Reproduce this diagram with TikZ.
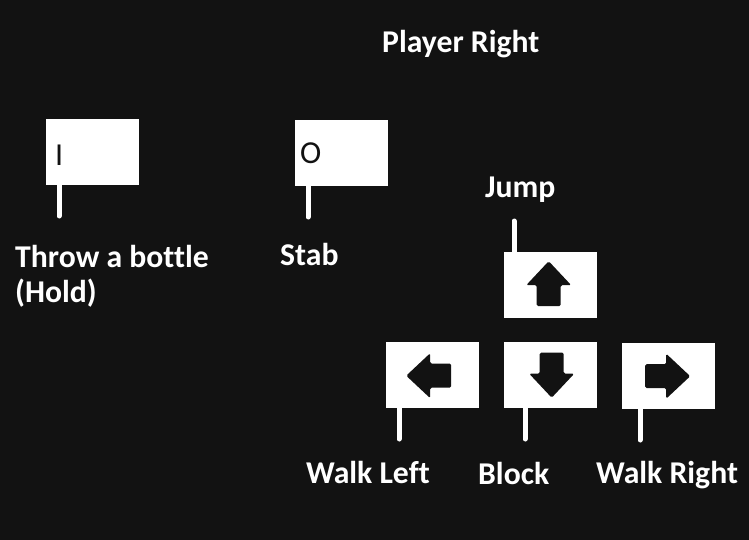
\documentclass[tikz,border=0pt]{standalone}
\usepackage{fontspec}
\setmainfont[Ligatures=NoCommon]{Carlito}
\usepackage{tikz}
\usepackage{xcolor}
\definecolor{bgdark}{RGB}{18,18,18}

\begin{document}
\begin{tikzpicture}[x=1pt, y=-1pt,
    key/.style={fill=white, minimum width=93pt, minimum height=66pt, inner sep=0pt, anchor=north west},
    keyletter/.style={anchor=base west, inner sep=0pt, font=\fontsize{32}{38}\selectfont, text=bgdark},
    caption/.style={anchor=base west, inner sep=0pt, font=\bfseries\fontsize{31.7}{38}\selectfont, text=white},
    stem/.style={draw=white, line width=5pt, line cap=round},
    arrowglyph/.pic={\fill[bgdark, rounded corners=1.5pt] (0,-22.5) -- (22.5,1.5) -- (12,1.5) -- (12,22.5) -- (-12,22.5) -- (-12,1.5) -- (-22.5,1.5) -- cycle;}]
    \fill[bgdark] (0,0) rectangle (749,540);
    \node[caption] (title) at (382,52.5) {Player Right};
    % letter keys
    \node[key] (keyI) at (46,119) {};
    \node[keyletter] (letI) at (55,166) {I};
    \node[key] (keyO) at (295,120) {};
    \node[keyletter] (letO) at (300,163.5) {O};
    % arrow keys
    \node[key] (keyUp) at (504,252) {};
    \node[key] (keyLeft) at (386,342) {};
    \node[key] (keyDown) at (504,342) {};
    \node[key] (keyRight) at (622,343) {};
    \pic at ([shift={(-2,-1.5)}]keyUp.center) {arrowglyph};
    \pic[rotate=90] at ([shift={(-4,0.5)}]keyLeft.center) {arrowglyph};
    \pic[rotate=180] at ([shift={(1,0)}]keyDown.center) {arrowglyph};
    \pic[rotate=-90] at ([shift={(-1,0)}]keyRight.center) {arrowglyph};
    % stems
    \coordinate (endI) at (59,216);
    \coordinate (endO) at (308,217);
    \coordinate (endJump) at (514,221);
    \coordinate (endLeft) at (399,439);
    \coordinate (endDown) at (525,439);
    \coordinate (endRight) at (640,440);
    \draw[stem] (endI |- keyI.south) -- (endI);
    \draw[stem] (endO |- keyO.south) -- (endO);
    \draw[stem] (endJump |- keyUp.north) -- (endJump);
    \draw[stem] (endLeft |- keyLeft.south) -- (endLeft);
    \draw[stem] (endDown |- keyDown.south) -- (endDown);
    \draw[stem] (endRight |- keyRight.south) -- (endRight);
    % captions
    \node[caption] (capThrow) at (15,267) {Throw a bottle};
    \node[caption] (capHold) at (15,302) {(Hold)};
    \node[caption] (capStab) at (280,265) {Stab};
    \node[caption] (capJump) at (485,197.5) {Jump};
    \node[caption] (capLeft) at (306,483) {Walk Left};
    \node[caption] (capBlock) at (478,484.5) {Block};
    \node[caption] (capRight) at (596,483) {Walk Right};
\end{tikzpicture}
\end{document}
